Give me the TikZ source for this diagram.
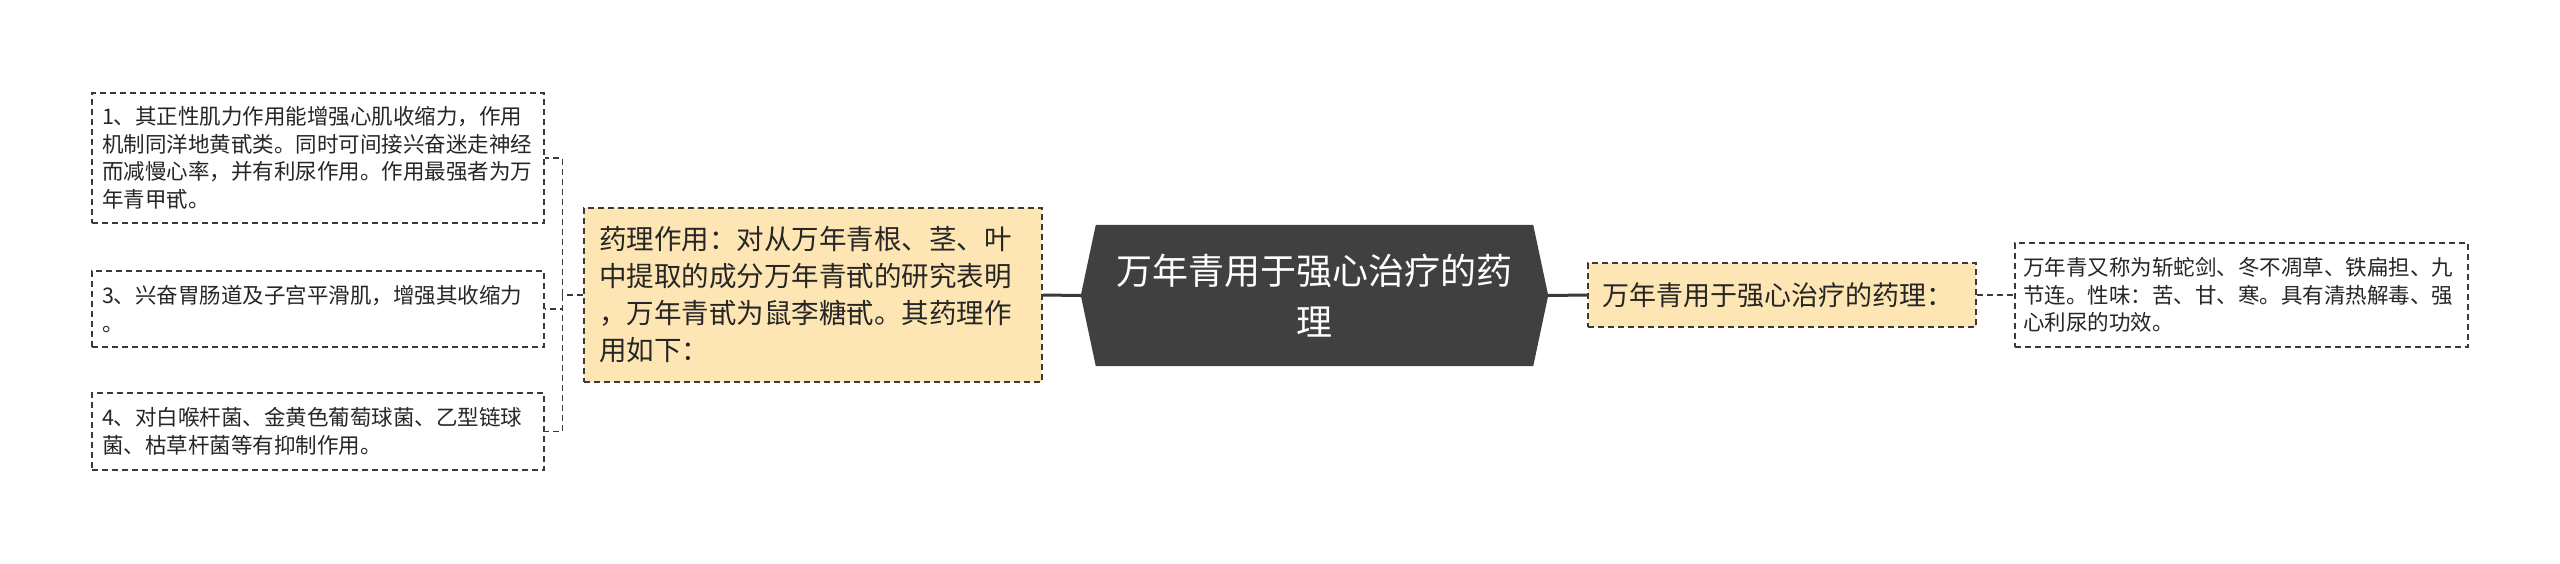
\documentclass[tikz,border=0pt]{standalone}
\usepackage{fontspec}
\setmainfont{Noto Sans CJK SC}
\usetikzlibrary{backgrounds}
\definecolor{yel}{HTML}{FDE6B3}
\definecolor{hexc}{HTML}{404040}
\definecolor{ln}{HTML}{3A3A3A}
\begin{document}
\begin{tikzpicture}[x=1pt,y=-1pt,
  dashbox/.style={draw=ln, line width=1.5pt, dash pattern=on 6pt off 4pt, inner xsep=0pt, inner ysep=0pt, align=left},
  leaf/.style={dashbox, fill=white, font=\fontsize{21.5}{27.5}\selectfont, text=black!85},
  sub/.style={dashbox, fill=yel, text=black!85},
  hub/.style={inner sep=0pt, align=center, text=white, font=\fontsize{36}{51}\selectfont},
  solidconn/.style={draw=ln, line width=3pt},
  dashconn/.style={draw=ln, line width=1.5pt, dash pattern=on 6pt off 4pt}]
\useasboundingbox (0,0) rectangle (2560,563);

% central hexagon
\node[hub, minimum width=467pt, minimum height=141pt] (c) at (1314.5,295.5) {万年青用于强心治疗的药\\理};
\begin{pgfonlayer}{background}
\fill[white] (0,0) rectangle (2560,563);
\fill[hexc] (c.west) -- ([xshift=15pt]c.north west) -- ([xshift=-15pt]c.north east) -- (c.east) -- ([xshift=-15pt]c.south east) -- ([xshift=15pt]c.south west) -- cycle;
\end{pgfonlayer}

% left branch
\node[sub, minimum width=458pt, minimum height=174pt, text width=428pt, font=\fontsize{27.5}{37}\selectfont] (L) at (813,295) {药理作用：对从万年青根、茎、叶\\中提取的成分万年青甙的研究表明\\，万年青甙为鼠李糖甙。其药理作\\用如下：};

\node[leaf, minimum width=452pt, minimum height=130pt, text width=432pt] (b1) at (318,158) {1、其正性肌力作用能增强心肌收缩力，作用\\机制同洋地黄甙类。同时可间接兴奋迷走神经\\而减慢心率，并有利尿作用。作用最强者为万\\年青甲甙。};
\node[leaf, minimum width=452pt, minimum height=76pt, text width=432pt] (b3) at (318,309) {3、兴奋胃肠道及子宫平滑肌，增强其收缩力\\。};
\node[leaf, minimum width=452pt, minimum height=77pt, text width=432pt] (b4) at (318,431.5) {4、对白喉杆菌、金黄色葡萄球菌、乙型链球\\菌、枯草杆菌等有抑制作用。};

% right branch
\node[sub, minimum width=388pt, minimum height=64pt, text width=360pt, font=\fontsize{27}{34}\selectfont] (R) at (1782,295) {万年青用于强心治疗的药理：};
\node[leaf, minimum width=453pt, minimum height=104pt, text width=437pt] (RW) at (2241.5,295) {万年青又称为斩蛇剑、冬不凋草、铁扁担、九\\节连。性味：苦、甘、寒。具有清热解毒、强\\心利尿的功效。};

% connectors
\draw[solidconn] (L.east) -- (c.west);
\draw[solidconn] (c.east) -- (R.west);
\draw[dashconn] (R.east) -- (RW.west);
\draw[dashconn] (L.west) -- ++(-21,0) coordinate (br);
\draw[dashconn] (br) |- (b1.east);
\draw[dashconn] (br) |- (b3.east);
\draw[dashconn] (br) |- (b4.east);
\end{tikzpicture}
\end{document}
